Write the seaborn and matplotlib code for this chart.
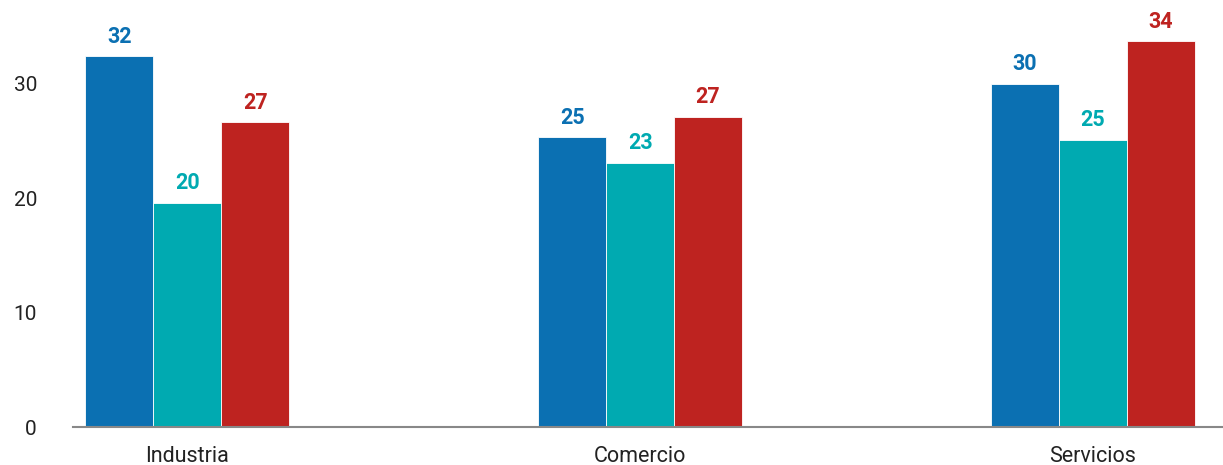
import matplotlib
matplotlib.use("Agg")
import matplotlib.pyplot as plt
import seaborn as sns
import pandas as pd

categories = ["Industria", "Comercio", "Servicios"]
series_names = ["Serie 1", "Serie 2", "Serie 3"]
serie1 = [32.4, 25.3, 30.0]
serie2 = [19.6, 23.1, 25.1]
serie3 = [26.6, 27.1, 33.7]
labels1 = ["32", "25", "30"]
labels2 = ["20", "23", "25"]
labels3 = ["27", "27", "34"]
yticks = [0, 10, 20, 30]
colors = ["#0b70b2", "#00aab1", "#be2320"]

rows = []
for name, vals in zip(series_names, [serie1, serie2, serie3]):
    for c, v in zip(categories, vals):
        rows.append({"cat": c, "serie": name, "val": v})
df = pd.DataFrame(rows)

sns.set_style("white")
plt.rcParams['font.family'] = ['Roboto', 'DejaVu Sans']

fig = plt.figure(figsize=(12.23, 4.65), dpi=100)
ax = fig.add_axes([73/1223, 38/465, 1150/1223, 427/465])
sns.barplot(data=df, x="cat", y="val", hue="serie", order=categories,
            hue_order=series_names, palette=colors, width=0.45,
            saturation=1, edgecolor="white", linewidth=0.6, ax=ax,
            legend=False)

for cont, labs, col in zip(ax.containers, [labels1, labels2, labels3], colors):
    ax.bar_label(cont, labels=labs, padding=6, color=col,
                 fontsize=15.5, fontweight="bold")

ax.set_ylim(0, 37.3)
ax.set_xlim(-0.252, 2.287)
ax.set_yticks(yticks)
ax.set_xlabel("")
ax.set_ylabel("")
for s in ["left", "right", "top"]:
    ax.spines[s].set_visible(False)
ax.spines["bottom"].set_color("#888888")
ax.spines["bottom"].set_linewidth(1.5)
ax.tick_params(axis="y", length=0, pad=26, labelsize=15, labelcolor="#222222")
ax.tick_params(axis="x", length=0, pad=14, labelsize=15.5, labelcolor="#222222")

fig.savefig("out.png", dpi=100)
